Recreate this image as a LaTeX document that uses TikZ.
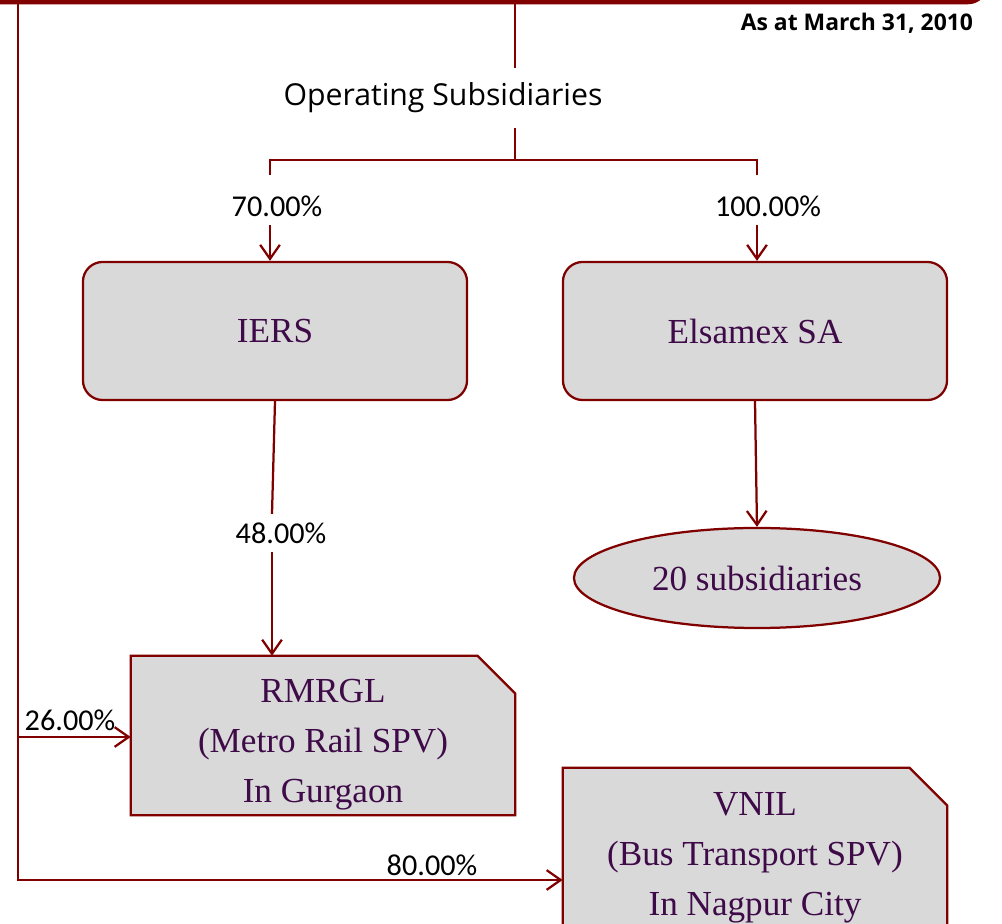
\documentclass[tikz,border=0pt]{standalone}
\usepackage{fontspec}
\setmainfont{Liberation Serif}
\newfontfamily\labelfont{Carlito}
\newfontfamily\headfont{Open Sans}
\usetikzlibrary{arrows.meta, shapes.geometric, positioning, backgrounds}
\definecolor{darkred}{RGB}{128,0,0}
\definecolor{boxgray}{RGB}{217,217,217}
\definecolor{boxtext}{RGB}{62,10,72}
\newcommand{\topgap}{\rule{0pt}{29pt}}
\tikzstyle{line}     = [darkred, line width=1.6pt]
\tikzstyle{arrow}    = [line, -{Straight Barb[length=10pt,width=14pt]}]
\tikzstyle{groupbar} = [draw=darkred, line width=3.2pt, rounded corners=12pt, inner sep=0pt]
\tikzstyle{rbox}     = [draw=darkred, line width=1.6pt, fill=boxgray, rounded corners=14pt, minimum width=9.6cm, minimum height=3.45cm, text=boxtext, font=\fontsize{25}{35}\selectfont]
\tikzstyle{spvbox}   = [minimum width=9.6cm, text=boxtext, align=center, font=\fontsize{25}{35.5}\selectfont]
\tikzstyle{snip}     = [draw=darkred, line width=1.6pt, fill=boxgray]
\tikzstyle{pct}      = [font=\labelfont\fontsize{21.5}{25}\selectfont, inner sep=6pt]

\begin{document}
\begin{tikzpicture}[x=0.025cm, y=-0.025cm]
\useasboundingbox (0,0) rectangle (1002,924);

% skupina nahoře
\node[groupbar, minimum width=25.625cm, minimum height=1.55cm] (group) at (472.5,-29) {};
\node[anchor=east, font=\headfont\bfseries\fontsize{16.3}{19}\selectfont] (date) at (978,23) {As at March 31, 2010};

% provozní dceřiné společnosti
\node[font=\headfont\fontsize{21.5}{28}\selectfont, minimum height=1.5cm] (opsub) at (443,98) {Operating Subsidiaries};
\coordinate (split) at (515,160);
\coordinate (lft) at (270,175);
\coordinate (rgt) at (757,175);

\node[pct] (p70) at (277,206) {70.00\%};
\node[pct] (p100) at (768,206) {100.00\%};

\node[rbox] (iers) at (275,331) {IERS};
\node[rbox] (elsa) at (755,331) {Elsamex SA};

\node[draw=darkred, line width=1.6pt, fill=boxgray, ellipse, minimum width=9.15cm, minimum height=2.5cm, text=boxtext, font=\fontsize{25}{35}\selectfont] (subs) at (757,578) {20 subsidiaries};

\node[pct] (p48) at (281,533) {48.00\%};
\coordinate (mid) at (272,533);

\node[spvbox, minimum height=3.975cm] (rmrgl) at (323,735.5) {\topgap RMRGL\\(Metro Rail SPV)\\In Gurgaon};
\node[spvbox, minimum height=4.05cm] (vnil) at (755,849) {\topgap VNIL\\(Bus Transport SPV)\\In Nagpur City};

% useknuté rohy
\begin{scope}[on background layer]
\draw[snip] (rmrgl.south west) -- (rmrgl.north west) -- ([xshift=-27]rmrgl.north east) -- ([yshift=-27]rmrgl.north east) -- (rmrgl.south east) -- cycle;
\draw[snip] (vnil.south west) -- (vnil.north west) -- ([xshift=-27]vnil.north east) -- ([yshift=-27]vnil.north east) -- (vnil.south east) -- cycle;
\end{scope}

% levá větev
\coordinate (br) at (18,737);
\coordinate (corner) at (18,880);
\node[pct, inner sep=1pt] (p26) at (70,720) {26.00\%};
\node[pct, inner sep=1pt] (p80) at (432,865) {80.00\%};

% hrany
\draw[line] (group.south -| split) -- (opsub.north -| split);
\draw[line] (opsub.south -| split) -- (split);
\draw[line] (lft) |- (split) -| (rgt);
\draw[arrow] (p70.south -| lft) -- (lft |- iers.north);
\draw[arrow] (p100.south -| rgt) -- (rgt |- elsa.north);
\draw[line] (iers.south) -- (mid |- p48.north);
\draw[arrow] (mid |- p48.south) -- (mid |- rmrgl.north);
\draw[arrow] (elsa.south) -- (subs.north);
\draw[arrow] (group.south -| corner) -- (corner) -- (corner -| vnil.west);
\draw[arrow] (br) -- (br -| rmrgl.west);

\end{tikzpicture}
\end{document}
